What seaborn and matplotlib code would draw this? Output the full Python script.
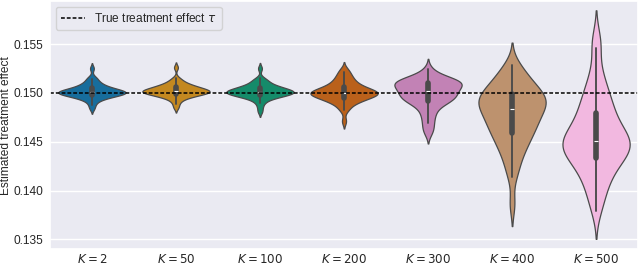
import numpy as np
import pandas as pd
import matplotlib
matplotlib.use('Agg')
import matplotlib.pyplot as plt
import seaborn as sns

# estimated treatment effect per simulation
k_labels = ['$K = 2$', '$K = 50$', '$K = 100$', '$K = 200$', '$K = 300$', '$K = 400$', '$K = 500$']
true_tau = 0.150

est_k2 = [0.1484, 0.1488, 0.1491, 0.1493, 0.1494, 0.1495, 0.1496, 0.1496, 0.1497, 0.1497,
          0.1498, 0.1498, 0.1499, 0.1499, 0.1499, 0.1500, 0.1500, 0.1500, 0.1500, 0.1501,
          0.1501, 0.1501, 0.1502, 0.1502, 0.1502, 0.1503, 0.1503, 0.1504, 0.1504, 0.1505,
          0.1505, 0.1506, 0.1507, 0.1508, 0.1509, 0.1510, 0.1512, 0.1514, 0.1516, 0.1525]
est_k50 = [0.1485, 0.1489, 0.1492, 0.1494, 0.1495, 0.1496, 0.1497, 0.1497, 0.1498, 0.1498,
           0.1499, 0.1499, 0.1500, 0.1500, 0.1500, 0.1501, 0.1501, 0.1501, 0.1501, 0.1502,
           0.1502, 0.1502, 0.1503, 0.1503, 0.1503, 0.1504, 0.1504, 0.1505, 0.1505, 0.1506,
           0.1506, 0.1507, 0.1507, 0.1508, 0.1509, 0.1510, 0.1511, 0.1513, 0.1515, 0.1526]
est_k100 = [0.1481, 0.1486, 0.1490, 0.1492, 0.1494, 0.1495, 0.1496, 0.1496, 0.1497, 0.1497,
            0.1498, 0.1498, 0.1499, 0.1499, 0.1500, 0.1500, 0.1500, 0.1500, 0.1501, 0.1501,
            0.1501, 0.1502, 0.1502, 0.1502, 0.1503, 0.1503, 0.1504, 0.1504, 0.1505, 0.1505,
            0.1506, 0.1506, 0.1507, 0.1508, 0.1509, 0.1510, 0.1512, 0.1513, 0.1515, 0.1525]
est_k200 = [0.1471, 0.1482, 0.1485, 0.1488, 0.1490, 0.1491, 0.1492, 0.1493, 0.1494, 0.1495,
            0.1495, 0.1496, 0.1497, 0.1497, 0.1498, 0.1498, 0.1499, 0.1499, 0.1500, 0.1500,
            0.1500, 0.1501, 0.1501, 0.1502, 0.1502, 0.1503, 0.1504, 0.1504, 0.1505, 0.1506,
            0.1507, 0.1508, 0.1509, 0.1511, 0.1512, 0.1514, 0.1516, 0.1518, 0.1521, 0.1524]
est_k300 = [0.1459, 0.1464, 0.1469, 0.1474, 0.1478, 0.1482, 0.1485, 0.1488, 0.1490, 0.1491,
            0.1492, 0.1493, 0.1494, 0.1495, 0.1496, 0.1497, 0.1498, 0.1499, 0.1500, 0.1501,
            0.1502, 0.1503, 0.1504, 0.1505, 0.1506, 0.1507, 0.1508, 0.1509, 0.1510, 0.1510,
            0.1511, 0.1511, 0.1512, 0.1512, 0.1513, 0.1514, 0.1515, 0.1516, 0.1519, 0.1524]
est_k400 = [0.1386, 0.1414, 0.1424, 0.1432, 0.1438, 0.1443, 0.1447, 0.1451, 0.1454, 0.1457,
            0.1460, 0.1463, 0.1466, 0.1468, 0.1470, 0.1472, 0.1474, 0.1477, 0.1479, 0.1482,
            0.1484, 0.1486, 0.1488, 0.1489, 0.1490, 0.1491, 0.1493, 0.1494, 0.1496, 0.1498,
            0.1500, 0.1502, 0.1504, 0.1506, 0.1509, 0.1512, 0.1515, 0.1519, 0.1524, 0.1529]
est_k500 = [0.1379, 0.1390, 0.1398, 0.1405, 0.1411, 0.1416, 0.1420, 0.1424, 0.1428, 0.1431,
            0.1434, 0.1436, 0.1438, 0.1440, 0.1442, 0.1444, 0.1446, 0.1447, 0.1449, 0.1450,
            0.1452, 0.1454, 0.1456, 0.1458, 0.1461, 0.1464, 0.1467, 0.1470, 0.1474, 0.1478,
            0.1482, 0.1486, 0.1490, 0.1495, 0.1500, 0.1506, 0.1514, 0.1524, 0.1546, 0.1556]

series = [est_k2, est_k50, est_k100, est_k200, est_k300, est_k400, est_k500]
data = pd.concat([pd.DataFrame({'K': lab, 'estimate': vals}) for lab, vals in zip(k_labels, series)])

sns.set_theme(style='darkgrid')
plt.rcParams['font.family'] = ['Liberation Sans', 'DejaVu Sans']
plt.rcParams['font.size'] = 8.6

fig, ax = plt.subplots(figsize=(6.4, 2.65), dpi=100)
fig.subplots_adjust(left=0.078, right=0.997, top=0.996, bottom=0.06)

sns.violinplot(data=data, x='K', y='estimate', hue='K', palette='colorblind', legend=False,
               density_norm='width', bw_adjust=0.75, linewidth=0.9, linecolor='#4a4a4a', ax=ax)
ax.axhline(true_tau, color='black', linestyle=(0, (2.5, 1.3)), linewidth=1.1,
           label=r'True treatment effect $\tau$')

ax.set_ylim(0.1340, 0.1594)
ax.set_yticks([0.135, 0.140, 0.145, 0.150, 0.155])
ax.set_xlabel('')
ax.set_ylabel('Estimated treatment effect', fontsize=8.6, labelpad=1)
ax.tick_params(axis='y', labelsize=8.6, length=0, pad=5)
ax.tick_params(axis='x', labelsize=8.6, length=0, pad=2.5)
ax.legend(loc='upper left', fontsize=8.6)

plt.savefig('out.png', dpi=100)
